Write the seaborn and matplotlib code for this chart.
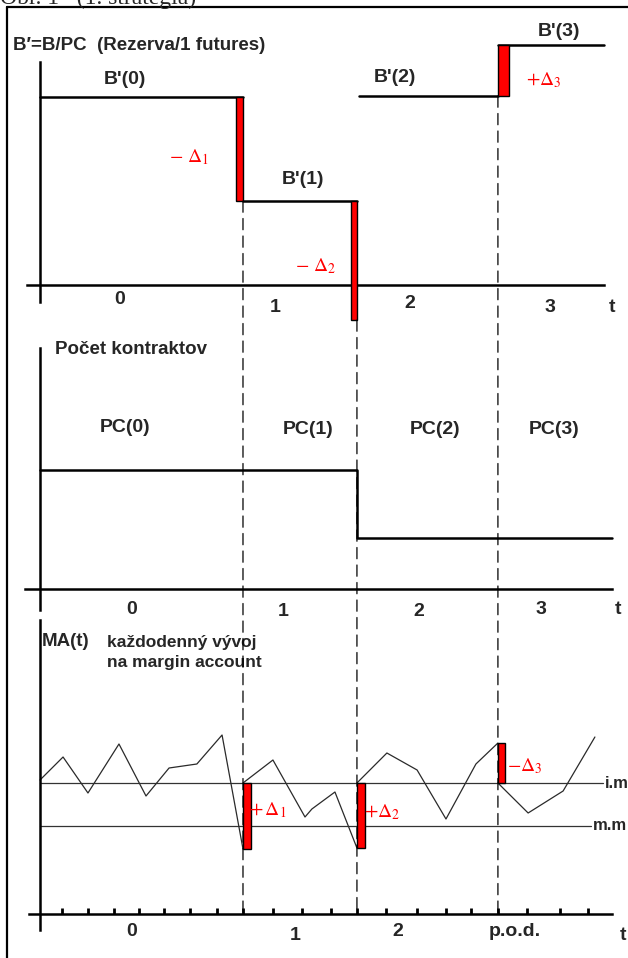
import matplotlib
matplotlib.use('Agg')
import pandas as pd
import matplotlib.pyplot as plt
from matplotlib.patches import ConnectionPatch
from matplotlib.lines import Line2D
import seaborn as sns

# settlement dates on the time axis (days from start)
T1, T2, T3 = 7.66, 11.96, 17.28
T_END = 21.3

# panel 1: reserve per one futures contract B' = B/PC
b_labels = ["B'(0)", "B'(1)", "B'(2)", "B'(3)"]
b_levels = [18.8, 8.4, 18.9, 24.0]
b_starts = [0.0, T1, T2 + 0.08, T3]
b_ends = [T1, T2, T3, T_END]
delta2_low = -3.5

# panel 2: number of contracts
pc_labels = ["PC(0)", "PC(1)", "PC(2)", "PC(3)"]
pc_t = [0.0, T1, T2, 21.6]
pc_values = [11.9, 11.9, 5.1, 5.1]

# panel 3: daily margin account, one segment per period
ma_t = [
    [0.0, 0.87, 1.81, 2.98, 4.0, 4.87, 5.92, 6.87, T1],
    [T1, 8.79, 10.0, 10.26, 11.13, T2],
    [T2, 13.09, 14.23, 15.32, 16.45, T3],
    [T3, 18.42, 19.74, 20.94],
]
ma_values = [
    [13.4, 15.7, 12.1, 17.0, 11.8, 14.6, 15.0, 17.9, 6.5],
    [13.1, 15.4, 9.7, 10.5, 12.2, 6.6],
    [13.1, 16.1, 14.4, 9.5, 15.0, 17.1],
    [13.1, 10.1, 12.3, 17.7],
]
ma_days = [0.83, 1.81, 2.79, 3.74, 4.68, 5.66, 6.68, 7.66, 8.79, 9.89,
           10.98, 11.96, 13.06, 14.23, 15.32, 16.26, 17.28, 18.38, 19.62, 20.68]
initial_margin = 13.1
maint_margin = 8.8

sns.set_style('white')
plt.rcParams['font.family'] = ['Liberation Sans', 'DejaVu Sans']
plt.rcParams['mathtext.fontset'] = 'stix'

FIG_W, FIG_H = 628, 958
PX_PER_DAY = 26.5
X0_PX = 40
AXIS_LW = 1.8
RED = '#ff0000'

fig = plt.figure(figsize=(FIG_W / 100, FIG_H / 100), dpi=100)


def add_panel(top, bottom, zero_px, xbounds, ybounds):
    ax = fig.add_axes([0, 1 - bottom / FIG_H, 1, (bottom - top) / FIG_H])
    ax.patch.set_visible(False)
    ax.set_xlim(-X0_PX / PX_PER_DAY, (FIG_W - X0_PX) / PX_PER_DAY)
    ax.set_ylim((zero_px - bottom) / 10, (zero_px - top) / 10)
    for s in ['top', 'right']:
        ax.spines[s].set_visible(False)
    for s in ['bottom', 'left']:
        ax.spines[s].set_position(('data', 0))
        ax.spines[s].set_color('black')
        ax.spines[s].set_linewidth(AXIS_LW)
    ax.spines['bottom'].set_bounds(*xbounds)
    ax.spines['left'].set_bounds(*ybounds)
    ax.set_xticks([])
    ax.set_yticks([])
    ax.set_xlabel('')
    ax.set_ylabel('')
    return ax


lab = dict(fontsize=14, fontweight='bold', ha='center', va='center')
delta = dict(fontsize=14, color=RED, ha='center', va='center')

# ---- panel 1 ----
ax1 = add_panel(20, 330, 285, (-0.49, 21.3), (-1.7, 22.3))
df_b = pd.DataFrame({
    'seg': [i for i in range(4) for _ in range(2)],
    't': [v for s, e in zip(b_starts, b_ends) for v in (s, e)],
    'value': [v for v in b_levels for _ in range(2)],
})
sns.lineplot(data=df_b, x='t', y='value', units='seg', estimator=None,
             color='black', lw=AXIS_LW, legend=False, ax=ax1)
ax1.bar(T1, b_levels[0] - b_levels[1], width=-0.26, bottom=b_levels[1],
        align='edge', color=RED, edgecolor='black', lw=1, zorder=3)
ax1.bar(T2, b_levels[1] - delta2_low, width=-0.23, bottom=delta2_low,
        align='edge', color=RED, edgecolor='black', lw=1, zorder=3)
ax1.bar(T3, b_levels[3] - b_levels[2], width=0.42, bottom=b_levels[2],
        align='edge', color=RED, edgecolor='black', lw=1, zorder=3)
ax1.text(-1.02, 24.0, "B\u2032=B/PC  (Rezerva/1 futures)", fontsize=13.5,
         fontweight='bold', ha='left', va='center')
for txt, x, y in zip(b_labels, [3.21, 9.92, 13.4, 19.6], [20.5, 10.5, 20.7, 25.3]):
    ax1.text(x, y, txt, **lab)
for txt, x, y in zip(['0', '1', '2', '3', 't'], [3.02, 8.87, 13.96, 19.25, 21.6],
                     [-1.5, -2.2, -1.8, -2.2, -2.2]):
    ax1.text(x, y, txt, **lab)
ax1.text(5.62, 12.8, r'$-\ \Delta_1$', **delta)
ax1.text(10.4, 1.9, r'$-\ \Delta_2$', **delta)
ax1.text(19.0, 20.5, r'$+\Delta_3$', **delta)

# ---- panel 2 ----
ax2 = add_panel(330, 620, 589, (-0.57, 21.6), (-2.1, 24.1))
sns.lineplot(x=pc_t, y=pc_values, drawstyle='steps-post', color='black',
             lw=AXIS_LW, ax=ax2)
ax2.text(0.57, 23.9, "Počet kontraktov", fontsize=13.5, fontweight='bold',
         ha='left', va='center')
for txt, x, y in zip(pc_labels, [3.21, 10.1, 14.9, 19.4], [16.2, 15.9, 15.9, 15.9]):
    ax2.text(x, y, txt, **lab)
for txt, x, y in zip(['0', '1', '2', '3', 't'], [3.47, 9.17, 14.3, 18.9, 21.8],
                     [-2.1, -2.3, -2.3, -2.1, -2.1]):
    ax2.text(x, y, txt, **lab)

# ---- panel 3 ----
ax3 = add_panel(620, 958, 914, (-0.42, 21.6), (-1.6, 29.4))
ax3.set_xticks(ma_days)
ax3.tick_params(axis='x', direction='in', length=4, width=2, color='black',
                bottom=True, labelbottom=False)
ax3.plot([0, 21.25], [initial_margin] * 2, color='#333333', lw=0.9)
ax3.plot([0, 20.8], [maint_margin] * 2, color='#333333', lw=0.9)
df_ma = pd.DataFrame({
    'seg': [i for i, ts in enumerate(ma_t) for _ in ts],
    't': [v for ts in ma_t for v in ts],
    'value': [v for vs in ma_values for v in vs],
})
sns.lineplot(data=df_ma, x='t', y='value', units='seg', estimator=None,
             color='#2a2a2a', lw=0.9, legend=False, ax=ax3)
ax3.bar(T1, initial_margin - ma_values[0][-1], width=0.3, bottom=ma_values[0][-1],
        align='edge', color=RED, edgecolor='black', lw=1, zorder=3)
ax3.bar(T2, initial_margin - ma_values[1][-1], width=0.3, bottom=ma_values[1][-1],
        align='edge', color=RED, edgecolor='black', lw=1, zorder=3)
ax3.bar(T3, ma_values[2][-1] - initial_margin, width=0.26, bottom=initial_margin,
        align='edge', color=RED, edgecolor='black', lw=1, zorder=3)
ax3.text(0.05, 27.2, "MA(t)", fontsize=13.5, fontweight='bold', ha='left', va='center')
ax3.text(2.53, 27.2, "každodenný vývoj", fontsize=12.5, fontweight='bold',
         ha='left', va='center')
ax3.text(2.53, 25.1, "na margin account", fontsize=12.5, fontweight='bold',
         ha='left', va='center')
ax3.text(21.3, initial_margin, "i.m", fontsize=12, fontweight='bold', ha='left', va='center')
ax3.text(20.85, maint_margin, "m.m", fontsize=12, fontweight='bold', ha='left', va='center')
for txt, x, y in zip(['0', '1', '2', 'p.o.d.', 't'], [3.47, 9.62, 13.5, 17.9, 22.0],
                     [-1.8, -2.1, -1.8, -1.8, -2.1]):
    ax3.text(x, y, txt, **lab)
ax3.text(8.6, 10.4, r'$+\,\Delta_1$', **delta)
ax3.text(12.9, 10.2, r'$+\Delta_2$', **delta)
ax3.text(18.3, 14.8, r'$-\Delta_3$', **delta)

# dashed settlement lines running through all three panels
for t, ya in zip([T1, T2, T3], [b_levels[1], delta2_low, b_levels[2]]):
    con = ConnectionPatch(xyA=(t, ya), coordsA=ax1.transData,
                          xyB=(t, 0), coordsB=ax3.transData,
                          linestyle=(0, (9, 5)), lw=0.9, color='black')
    fig.add_artist(con)

# page frame and caption, cut off at the top edge as in the scan
fig.add_artist(Line2D([7 / FIG_W, 7 / FIG_W], [0, 1 - 7 / FIG_H], color='black', lw=1.6))
fig.add_artist(Line2D([7 / FIG_W, 1], [1 - 7 / FIG_H] * 2, color='black', lw=1.6))
fig.text(0.0, 1 - 4 / FIG_H, "Obr. 1   (1. stratégia)", fontsize=17,
         family=['Liberation Serif', 'DejaVu Serif'], ha='left', va='baseline')

fig.savefig('out.png', dpi=100)
